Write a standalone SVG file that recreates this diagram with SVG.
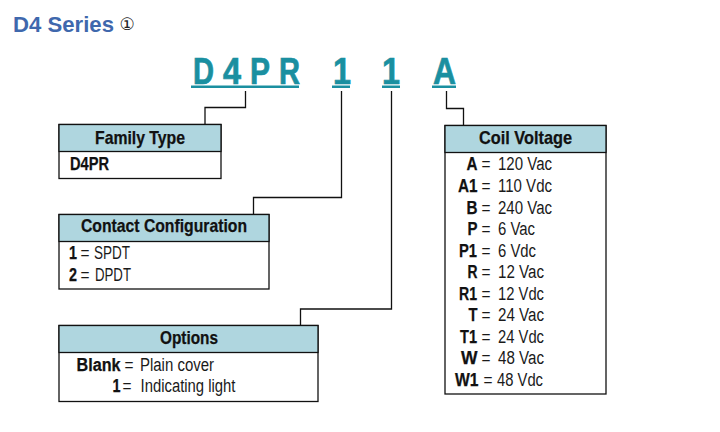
<svg xmlns="http://www.w3.org/2000/svg" width="720" height="432" viewBox="0 0 720 432">
<style>
text{font-family:"Liberation Sans",Arial,sans-serif;fill:#1a1a1a;font-size:18px}
.h{font-weight:bold;font-size:18.5px;fill:#111;stroke:#111;stroke-width:.25}
.b{font-weight:bold;fill:#111;stroke:#111;stroke-width:.25}
.pn{font-weight:bold;font-size:36px;fill:#1a8fa0;stroke:#1a8fa0;stroke-width:.7}
.ul{fill:#1a8fa0;stroke:none}
.box{fill:#fff;stroke:#111;stroke-width:1.3}
.hd{fill:#afd6df;stroke:#111;stroke-width:1.3}
.c{fill:none;stroke:#111;stroke-width:1.3}
</style>
<rect width="720" height="432" fill="#fff"/>
<text x="13" y="32" style="font-weight:bold;font-size:22px;fill:#3f68ad" textLength="101" lengthAdjust="spacingAndGlyphs">D4 Series</text>
<text x="119.500" y="30" style="font-family:'DejaVu Sans',sans-serif;font-size:17px;fill:#222">①</text>
<g id="part-number">
<text class="pn" x="193" y="83.5" textLength="21" lengthAdjust="spacingAndGlyphs">D</text>
<text class="pn" x="223" y="83.5" textLength="18" lengthAdjust="spacingAndGlyphs">4</text>
<text class="pn" x="250" y="83.5" textLength="20" lengthAdjust="spacingAndGlyphs">P</text>
<text class="pn" x="279" y="83.5" textLength="21" lengthAdjust="spacingAndGlyphs">R</text>
<text class="pn" x="333" y="83.5" textLength="18" lengthAdjust="spacingAndGlyphs">1</text>
<text class="pn" x="382" y="83.5" textLength="18" lengthAdjust="spacingAndGlyphs">1</text>
<text class="pn" x="433" y="83.5" textLength="23" lengthAdjust="spacingAndGlyphs">A</text>
<rect class="ul" x="191" y="85.500" width="108" height="2.500"/>
<rect class="ul" x="332" y="85.500" width="18" height="2.500"/>
<rect class="ul" x="382" y="85.500" width="18" height="2.500"/>
<rect class="ul" x="432" y="85.500" width="24" height="2.500"/>
</g>
<g id="connectors">
<path class="c" d="M245.500 91V107.500H205V124.500"/>
<path class="c" d="M341.500 91V197.500H253.500V214.500"/>
<path class="c" d="M391.500 91V309H300.500V325.500"/>
<path class="c" d="M446.500 91V108.500H463.500V125.500"/>
</g>
<g id="family-type">
<rect class="box" x="59" y="124.500" width="162" height="54"/>
<rect class="hd" x="59" y="124.500" width="162" height="27"/>
<text class="h" x="95" y="143.500" textLength="90" lengthAdjust="spacingAndGlyphs">Family Type</text>
<text class="b" x="70" y="170" textLength="39" lengthAdjust="spacingAndGlyphs">D4PR</text>
</g>
<g id="contact-configuration">
<rect class="box" x="59" y="214.500" width="210" height="74.500"/>
<rect class="hd" x="59" y="214.500" width="210" height="27"/>
<text class="h" x="81" y="232" textLength="166" lengthAdjust="spacingAndGlyphs">Contact Configuration</text>
<text class="b" x="69" y="259" textLength="8" lengthAdjust="spacingAndGlyphs">1</text><text x="80.500" y="259" textLength="9" lengthAdjust="spacingAndGlyphs">=</text><text x="94" y="259" textLength="36" lengthAdjust="spacingAndGlyphs">SPDT</text>
<text class="b" x="69" y="281" textLength="8" lengthAdjust="spacingAndGlyphs">2</text><text x="80.500" y="281" textLength="9" lengthAdjust="spacingAndGlyphs">=</text><text x="95" y="281" textLength="36" lengthAdjust="spacingAndGlyphs">DPDT</text>
</g>
<g id="options">
<rect class="box" x="59" y="325.500" width="259" height="76"/>
<rect class="hd" x="59" y="325.500" width="259" height="27"/>
<text class="h" x="160" y="344" textLength="58" lengthAdjust="spacingAndGlyphs">Options</text>
<text class="b" x="76.500" y="371" textLength="44" lengthAdjust="spacingAndGlyphs">Blank</text><text x="124.500" y="371" textLength="9" lengthAdjust="spacingAndGlyphs">=</text><text x="140" y="371" textLength="74" lengthAdjust="spacingAndGlyphs">Plain cover</text>
<text class="b" x="112.500" y="392" textLength="8" lengthAdjust="spacingAndGlyphs">1</text><text x="122.500" y="392" textLength="9" lengthAdjust="spacingAndGlyphs">=</text><text x="140.500" y="392" textLength="95" lengthAdjust="spacingAndGlyphs">Indicating light</text>
</g>
<g id="coil-voltage">
<rect class="box" x="445" y="125.500" width="161" height="268.500"/>
<rect class="hd" x="445" y="125.500" width="161" height="27"/>
<text class="h" x="479" y="144" textLength="93" lengthAdjust="spacingAndGlyphs">Coil Voltage</text>
<text class="b" x="466.500" y="170" textLength="11" lengthAdjust="spacingAndGlyphs">A</text><text x="481.500" y="170" textLength="9" lengthAdjust="spacingAndGlyphs">=</text><text x="498" y="170" textLength="54" lengthAdjust="spacingAndGlyphs">120 Vac</text>
<text class="b" x="458" y="192" textLength="19.500" lengthAdjust="spacingAndGlyphs">A1</text><text x="481.500" y="192" textLength="9" lengthAdjust="spacingAndGlyphs">=</text><text x="498" y="192" textLength="54" lengthAdjust="spacingAndGlyphs">110 Vdc</text>
<text class="b" x="466.500" y="213.500" textLength="11" lengthAdjust="spacingAndGlyphs">B</text><text x="481.500" y="213.500" textLength="9" lengthAdjust="spacingAndGlyphs">=</text><text x="498" y="213.500" textLength="54" lengthAdjust="spacingAndGlyphs">240 Vac</text>
<text class="b" x="467.500" y="235" textLength="10" lengthAdjust="spacingAndGlyphs">P</text><text x="481.500" y="235" textLength="9" lengthAdjust="spacingAndGlyphs">=</text><text x="498" y="235" textLength="37" lengthAdjust="spacingAndGlyphs">6 Vac</text>
<text class="b" x="459" y="256.500" textLength="18" lengthAdjust="spacingAndGlyphs">P1</text><text x="481.500" y="256.500" textLength="9" lengthAdjust="spacingAndGlyphs">=</text><text x="498" y="256.500" textLength="38" lengthAdjust="spacingAndGlyphs">6 Vdc</text>
<text class="b" x="467.500" y="278" textLength="10" lengthAdjust="spacingAndGlyphs">R</text><text x="481.500" y="278" textLength="9" lengthAdjust="spacingAndGlyphs">=</text><text x="498" y="278" textLength="46" lengthAdjust="spacingAndGlyphs">12 Vac</text>
<text class="b" x="459" y="299.500" textLength="18" lengthAdjust="spacingAndGlyphs">R1</text><text x="481.500" y="299.500" textLength="9" lengthAdjust="spacingAndGlyphs">=</text><text x="498" y="299.500" textLength="46" lengthAdjust="spacingAndGlyphs">12 Vdc</text>
<text class="b" x="468.500" y="320.500" textLength="9" lengthAdjust="spacingAndGlyphs">T</text><text x="481.500" y="320.500" textLength="9" lengthAdjust="spacingAndGlyphs">=</text><text x="498" y="320.500" textLength="46" lengthAdjust="spacingAndGlyphs">24 Vac</text>
<text class="b" x="460" y="342.500" textLength="17" lengthAdjust="spacingAndGlyphs">T1</text><text x="481.500" y="342.500" textLength="9" lengthAdjust="spacingAndGlyphs">=</text><text x="498" y="342.500" textLength="46" lengthAdjust="spacingAndGlyphs">24 Vdc</text>
<text class="b" x="461" y="364" textLength="16.500" lengthAdjust="spacingAndGlyphs">W</text><text x="481.500" y="364" textLength="9" lengthAdjust="spacingAndGlyphs">=</text><text x="498" y="364" textLength="46" lengthAdjust="spacingAndGlyphs">48 Vac</text>
<text class="b" x="455" y="385.500" textLength="23.500" lengthAdjust="spacingAndGlyphs">W1</text><text x="483.500" y="385.500" textLength="9" lengthAdjust="spacingAndGlyphs">=</text><text x="497" y="385.500" textLength="46" lengthAdjust="spacingAndGlyphs">48 Vdc</text>
</g>
</svg>
